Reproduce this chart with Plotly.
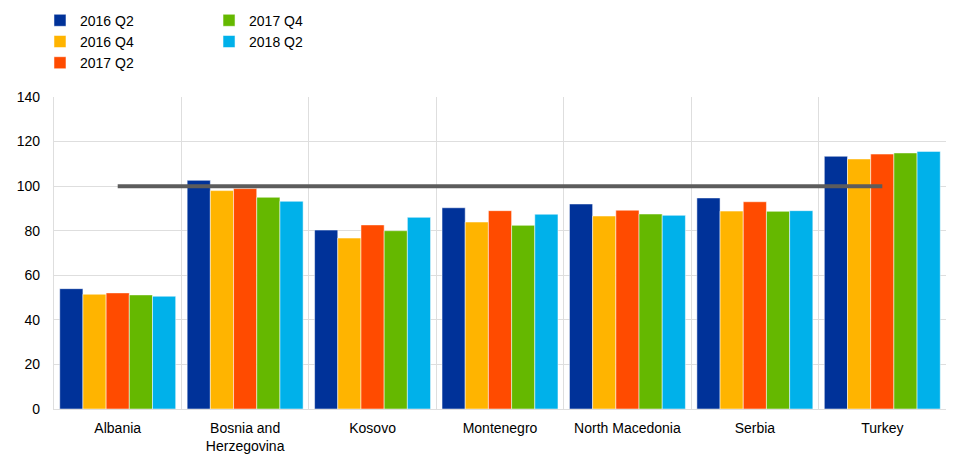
import plotly.graph_objects as go

countries = ["Albania", "Bosnia and<br>Herzegovina", "Kosovo", "Montenegro",
             "North Macedonia", "Serbia", "Turkey"]
periods = ["2016 Q2", "2016 Q4", "2017 Q2", "2017 Q4", "2018 Q2"]

q2_2016 = [54.0, 102.6, 80.3, 90.3, 92.0, 94.7, 113.4]
q4_2016 = [51.5, 98.0, 76.7, 83.9, 86.6, 88.8, 112.2]
q2_2017 = [52.1, 98.9, 82.6, 89.0, 89.2, 93.0, 114.4]
q4_2017 = [51.2, 95.0, 80.0, 82.4, 87.5, 88.7, 114.9]
q2_2018 = [50.6, 93.2, 86.0, 87.4, 86.9, 89.0, 115.6]
benchmark = [100] * len(countries)

series = [q2_2016, q4_2016, q2_2017, q4_2017, q2_2018]
colors = ["#003299", "#FFB400", "#FF4B00", "#65B800", "#00B1EA"]
legend_ref = ["legend", "legend", "legend", "legend2", "legend2"]

fig = go.Figure()
for name, vals, col, lg in zip(periods, series, colors, legend_ref):
    fig.add_trace(go.Bar(
        x=countries, y=vals, name=name, legend=lg,
        marker=dict(color=col, line=dict(color="rgba(255,255,255,0.5)", width=1)),
    ))

fig.add_trace(go.Scatter(
    x=countries, y=benchmark, mode="lines", showlegend=False,
    line=dict(color="#5C5C5C", width=4),
))

legend_style = dict(
    orientation="v", xanchor="left", yanchor="top", y=1.2958,
    bgcolor="rgba(0,0,0,0)", font=dict(size=14, color="#000000"),
    tracegroupgap=0,
)

# page body has an 8px default margin, so the figure is 8px smaller than the window
fig.update_layout(
    width=946, height=450,
    margin=dict(l=46, r=8, t=89, b=49, autoexpand=False),
    paper_bgcolor="white", plot_bgcolor="white",
    font=dict(family="Liberation Sans, Arial, sans-serif", size=14, color="#000000"),
    barmode="group", bargap=0.09, bargroupgap=0,
    legend=dict(x=-0.0157, **legend_style),
    legend2=dict(x=0.1738, **legend_style),
)
fig.update_xaxes(
    tickson="boundaries", showgrid=True, gridcolor="#DEDEDE", gridwidth=1.3,
    showline=True, linecolor="#DEDEDE", linewidth=1.3, ticks="", tickfont=dict(size=14),
    ticklabelstandoff=6, automargin=False,
)
fig.update_yaxes(
    range=[0, 140], dtick=20, showgrid=True, gridcolor="#DEDEDE", gridwidth=1.3,
    showline=True, mirror=True, linecolor="#DEDEDE", linewidth=1.3,
    zeroline=False, ticks="", tickfont=dict(size=14),
    ticklabelstandoff=10, automargin=False,
)

fig.write_html("out.html")
